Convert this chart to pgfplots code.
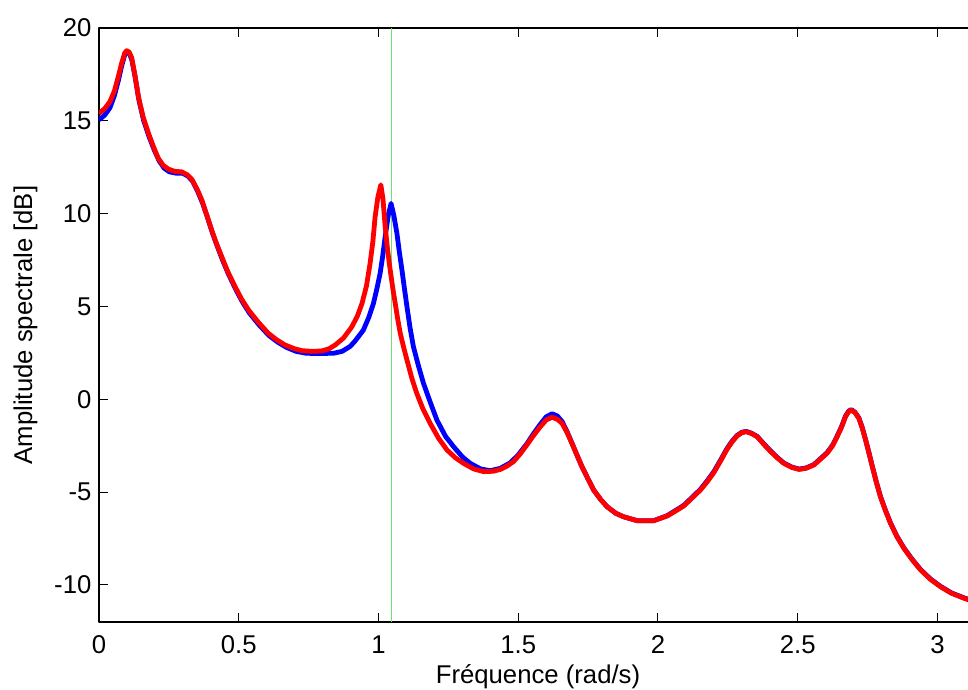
\documentclass[border=0pt]{standalone}
\usepackage{pgfplots}
\pgfplotsset{compat=1.18}
\usepackage{fontspec}
\setmainfont{Liberation Sans}
\definecolor{vline}{RGB}{110,225,110}
\begin{document}
\begin{tikzpicture}
\useasboundingbox (-49.5bp,-34bp) rectangle (434.5bp,311bp);
\begin{axis}[
  at={(0,0)}, anchor=south west,
  scale only axis,
  width=439bp, height=297bp,
  xmin=0, xmax=3.14159, ymin=-12, ymax=20,
  xtick={0,0.5,1,1.5,2,2.5,3},
  ytick={-10,-5,0,5,10,15,20},
  xticklabels={0,0.5,1,1.5,2,2.5,3},
  yticklabels={-10,-5,0,5,10,15,20},
  tick align=inside,
  major tick length=4.5bp,
  every tick/.style={black, line width=0.5bp},
  axis line style={black, line width=0.9bp},
  font=\fontsize{12.9}{14.5}\selectfont,
  /pgf/number format/assume math mode=true,
  xticklabel style={yshift=-3.2bp},
  yticklabel style={xshift=-0.3bp},
  xlabel={Fréquence (rad/s)},
  ylabel={Amplitude spectrale [dB]},
  xlabel style={at={(axis description cs:0.5,-0.1027)}, anchor=base},
  ylabel style={at={(axis description cs:-0.0763,0.5)}, anchor=base},
  line join=round,
]
\addplot[vline, line width=0.6bp] coordinates {(1.0472,-12) (1.0472,20)};
\addplot[blue, line width=2.4bp] coordinates {
(0,15.05) (0.02,15.30) (0.039,15.70) (0.055,16.35) (0.069,17.15) (0.081,17.95)
(0.092,18.55) (0.100,18.72) (0.109,18.62) (0.118,18.25) (0.130,17.3) (0.143,16.10)
(0.160,15.0) (0.179,14.15) (0.197,13.45) (0.215,12.85) (0.233,12.45) (0.252,12.25)
(0.275,12.18) (0.300,12.17) (0.318,12.02) (0.335,11.75) (0.353,11.20) (0.371,10.55)
(0.388,9.80) (0.406,8.95) (0.423,8.25) (0.442,7.50) (0.463,6.75) (0.490,5.90)
(0.513,5.25) (0.538,4.65) (0.573,4.00) (0.609,3.42) (0.640,3.07) (0.670,2.80)
(0.705,2.58) (0.740,2.48) (0.78,2.46) (0.84,2.48) (0.87,2.58) (0.899,2.85)
(0.917,3.15) (0.946,3.73) (0.965,4.4) (0.982,5.16) (0.995,6.0) (1.006,6.79)
(1.015,7.7) (1.024,8.76) (1.035,9.9) (1.045,10.55) (1.055,9.9) (1.066,8.94)
(1.075,7.9) (1.084,6.96) (1.093,5.95) (1.102,4.98) (1.113,3.85) (1.125,2.83)
(1.143,1.8) (1.161,0.86) (1.185,-0.15) (1.209,-1.12) (1.240,-2.0) (1.269,-2.56)
(1.30,-3.10) (1.328,-3.45) (1.365,-3.75) (1.400,-3.85) (1.436,-3.72) (1.472,-3.42)
(1.50,-3.0) (1.531,-2.40) (1.555,-1.85) (1.579,-1.35) (1.60,-0.95) (1.621,-0.78)
(1.64,-0.90) (1.657,-1.20) (1.675,-1.75) (1.692,-2.35) (1.710,-3.0) (1.728,-3.63)
(1.750,-4.3) (1.770,-4.89) (1.795,-5.4) (1.818,-5.79) (1.85,-6.15) (1.877,-6.33)
(1.925,-6.54) (1.985,-6.54) (2.033,-6.27) (2.060,-6.02) (2.092,-5.72) (2.12,-5.32)
(2.152,-4.85) (2.176,-4.40) (2.200,-3.90) (2.225,-3.25) (2.247,-2.66) (2.265,-2.26)
(2.283,-1.95) (2.30,-1.78) (2.316,-1.73) (2.335,-1.83) (2.355,-2.00) (2.380,-2.42)
(2.402,-2.77) (2.426,-3.12) (2.450,-3.43) (2.48,-3.66) (2.505,-3.76) (2.530,-3.70)
(2.558,-3.52) (2.58,-3.22) (2.605,-2.88) (2.625,-2.47) (2.641,-1.99) (2.657,-1.47)
(2.671,-0.91) (2.682,-0.65) (2.691,-0.55) (2.705,-0.70) (2.719,-1.01) (2.731,-1.53)
(2.743,-2.18) (2.755,-2.88) (2.767,-3.61) (2.781,-4.43) (2.796,-5.23) (2.814,-5.98)
(2.832,-6.66) (2.855,-7.38) (2.880,-8.01) (2.91,-8.63) (2.940,-9.18) (2.975,-9.68)
(3.011,-10.08) (3.05,-10.43) (3.095,-10.70) (3.1416,-10.93)
};
\addplot[red, line width=2.4bp] coordinates {
(0,15.40) (0.02,15.65) (0.039,16.03) (0.055,16.6) (0.069,17.38) (0.081,18.10)
(0.092,18.65) (0.099,18.78) (0.108,18.70) (0.117,18.40) (0.128,17.5) (0.141,16.30)
(0.158,15.2) (0.177,14.33) (0.195,13.6) (0.212,12.98) (0.230,12.6) (0.248,12.40)
(0.27,12.28) (0.296,12.25) (0.315,12.10) (0.332,11.85) (0.350,11.35) (0.368,10.73)
(0.385,9.95) (0.403,9.12) (0.420,8.4) (0.439,7.68) (0.46,6.9) (0.487,6.06)
(0.51,5.4) (0.535,4.81) (0.57,4.15) (0.606,3.55) (0.636,3.2) (0.666,2.92)
(0.70,2.72) (0.726,2.62) (0.76,2.58) (0.797,2.60) (0.823,2.72) (0.845,2.92)
(0.875,3.3) (0.905,3.91) (0.925,4.5) (0.941,5.16) (0.957,6.1) (0.970,7.32)
(0.980,8.5) (0.988,9.83) (0.998,10.9) (1.0085,11.55) (1.016,10.8) (1.024,9.30)
(1.033,8.0) (1.042,6.96) (1.051,6.0) (1.060,5.16) (1.069,4.3) (1.078,3.55)
(1.090,2.8) (1.102,2.11) (1.12,1.1) (1.137,0.32) (1.16,-0.55) (1.185,-1.30)
(1.215,-2.1) (1.245,-2.73) (1.275,-3.15) (1.304,-3.45) (1.34,-3.75) (1.376,-3.90)
(1.41,-3.88) (1.436,-3.78) (1.46,-3.6) (1.483,-3.36) (1.507,-2.95) (1.531,-2.46)
(1.555,-1.95) (1.579,-1.48) (1.60,-1.12) (1.621,-0.97) (1.64,-1.08) (1.657,-1.30)
(1.675,-1.8) (1.692,-2.37) (1.710,-3.0) (1.728,-3.63) (1.750,-4.3) (1.770,-4.89)
(1.795,-5.4) (1.818,-5.79) (1.85,-6.15) (1.877,-6.33) (1.925,-6.54) (1.985,-6.54)
(2.033,-6.29) (2.060,-6.05) (2.092,-5.75) (2.12,-5.35) (2.152,-4.89) (2.176,-4.45)
(2.200,-3.95) (2.225,-3.3) (2.247,-2.70) (2.265,-2.3) (2.283,-1.98) (2.30,-1.8)
(2.316,-1.75) (2.335,-1.85) (2.355,-2.02) (2.380,-2.45) (2.402,-2.80) (2.426,-3.15)
(2.450,-3.45) (2.48,-3.68) (2.505,-3.78) (2.530,-3.72) (2.558,-3.54) (2.58,-3.25)
(2.605,-2.91) (2.625,-2.5) (2.641,-2.02) (2.657,-1.5) (2.671,-0.94) (2.682,-0.68)
(2.691,-0.58) (2.705,-0.72) (2.719,-1.03) (2.731,-1.55) (2.743,-2.20) (2.755,-2.9)
(2.767,-3.63) (2.781,-4.45) (2.796,-5.25) (2.814,-6.0) (2.832,-6.68) (2.855,-7.4)
(2.880,-8.03) (2.91,-8.65) (2.940,-9.20) (2.975,-9.70) (3.011,-10.10) (3.05,-10.45)
(3.095,-10.72) (3.1416,-10.95)
};
\end{axis}
\end{tikzpicture}
\end{document}
